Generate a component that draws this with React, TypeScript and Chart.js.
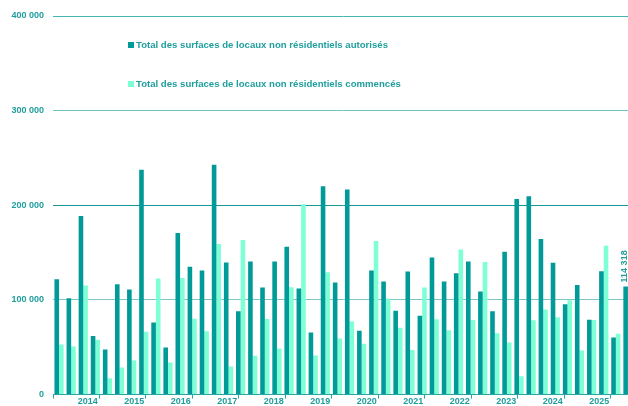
import React, { useEffect, useRef } from "react";
import { Chart, registerables } from "chart.js";

Chart.register(...registerables);

const years = ["2014", "2015", "2016", "2017", "2018", "2019", "2020", "2021", "2022", "2023", "2024", "2025"];
const quarters = ["T1", "T2", "T3", "T4"];
const categories = years.flatMap((y) => quarters.map((q) => `${y} ${q}`));

const autorises = [
  121900, 101800, 188700, 61800,
  47700, 116600, 111000, 237500,
  76300, 49800, 170700, 135000,
  131100, 242800, 139600, 88000,
  140700, 113100, 140700, 156200,
  112000, 65700, 220200, 118400,
  216600, 67500, 131100, 119500,
  88700, 130000, 83400, 144900,
  119500, 128300, 140700, 109000,
  88000, 150900, 206700, 209600,
  164300, 139200, 95400, 115900,
  79200, 130400, 60400, 114318,
];

const commences = [
  53000, 50900, 115200, 58000,
  17300, 28600, 36000, 66400,
  122600, 33900, 123300, 80200,
  66800, 159000, 29700, 163300,
  41000, 79900, 48800, 113400,
  201000, 41300, 129300, 59400,
  77400, 53700, 162200, 101400,
  70700, 47000, 113100, 79500,
  67900, 153400, 78800, 140000,
  64700, 55100, 19400, 78500,
  89800, 81600, 99700, 46600,
  78800, 157300, 64300, null,
];

const seriesNames = [
  "Total des surfaces de locaux non résidentiels autorisés",
  "Total des surfaces de locaux non résidentiels commencés",
];

const DARK = "#009a98";
const LIGHT = "#7fffd6";
const TEXT = "#1f9e9e";
const FONT = "'Liberation Sans', Arial, sans-serif";

const fmt = (v: number) => String(v).replace(/\B(?=(\d{3})+(?!\d))/g, " ");

const lastLabelPlugin = {
  id: "lastLabel",
  afterDatasetsDraw(chart: any) {
    const meta = chart.getDatasetMeta(0);
    const i = autorises.length - 1;
    const el = meta.data[i];
    if (!el) return;
    const ctx = chart.ctx;
    ctx.save();
    ctx.translate(el.x - 1.5, el.y - 4);
    ctx.rotate(-Math.PI / 2);
    ctx.font = `bold 9px ${FONT}`;
    ctx.fillStyle = TEXT;
    ctx.textAlign = "left";
    ctx.textBaseline = "middle";
    ctx.fillText(fmt(autorises[i]), 0, 0);
    ctx.restore();
  },
};

export default function App() {
  const ref = useRef<HTMLCanvasElement | null>(null);
  useEffect(() => {
    if (!ref.current) return;
    const gridColors: Record<number, string> = {
      400000: "#45b6b6",
      300000: "#6fc4c4",
      200000: "#16999a",
      100000: "#7cc6c6",
      0: "#2aa5a5",
    };
    const chart = new Chart(ref.current, {
      type: "bar",
      data: {
        labels: categories,
        datasets: [
          {
            label: seriesNames[0],
            data: autorises,
            backgroundColor: DARK,
            categoryPercentage: 0.76,
            barPercentage: 1,
            xAxisID: "x",
          },
          {
            label: seriesNames[1],
            data: commences,
            backgroundColor: LIGHT,
            categoryPercentage: 0.76,
            barPercentage: 1,
            xAxisID: "x",
          },
        ],
      },
      options: {
        responsive: false,
        animation: false,
        layout: { padding: { top: 16, right: 6, left: 0, bottom: 0 } },
        plugins: { legend: { display: false }, tooltip: { enabled: false } },
        scales: {
          x: { display: false, offset: true },
          x2: {
            type: "linear",
            position: "bottom",
            min: 0,
            max: categories.length,
            afterBuildTicks(scale: any) {
              const t = [];
              for (let v = 0; v <= categories.length; v += 2) t.push({ value: v });
              scale.ticks = t;
            },
            grid: {
              drawOnChartArea: false,
              drawTicks: true,
              tickLength: 4,
              tickColor: (ctx: any) =>
                ctx.tick && ctx.tick.value % 4 === 0 ? "#2aa5a5" : "rgba(0,0,0,0)",
            },
            border: { display: false },
            ticks: {
              autoSkip: false,
              maxRotation: 0,
              padding: -2,
              color: TEXT,
              font: { family: FONT, size: 9, weight: "bold" },
              callback: (v: any) => {
                const n = Number(v);
                return n % 4 === 2 ? years[(n - 2) / 4] : "";
              },
            },
          },
          y: {
            min: 0,
            max: 400000,
            afterFit(scale: any) {
              scale.width = 53;
            },
            ticks: {
              stepSize: 100000,
              padding: 9,
              color: TEXT,
              font: { family: FONT, size: 9, weight: "bold" },
              callback: (v: any) => fmt(Number(v)),
            },
            grid: {
              drawTicks: false,
              color: (ctx: any) => (ctx.tick ? gridColors[ctx.tick.value] || "#6fc4c4" : "#6fc4c4"),
              lineWidth: 1,
            },
            border: { display: false },
          },
        },
      } as any,
      plugins: [lastLabelPlugin],
    });
    return () => chart.destroy();
  }, []);

  const legendItem = (color: string, text: string, top: number) => (
    <div
      style={{
        position: "absolute",
        left: 128,
        top,
        display: "flex",
        alignItems: "center",
        fontFamily: FONT,
        fontWeight: "bold",
        fontSize: 9.6,
        color: TEXT,
        whiteSpace: "nowrap",
        lineHeight: "11px",
      }}
    >
      <span style={{ display: "inline-block", width: 6, height: 6, background: color, marginRight: 2 }} />
      <span>{text}</span>
    </div>
  );

  return (
    <div style={{ position: "absolute", left: 0, top: 0, width: 628, height: 406, overflow: "hidden", background: "#fff" }}>
      <canvas ref={ref} width={640} height={409} style={{ display: "block" }} />
      {legendItem(DARK, seriesNames[0], 39)}
      {legendItem(LIGHT, seriesNames[1], 78)}
    </div>
  );
}
